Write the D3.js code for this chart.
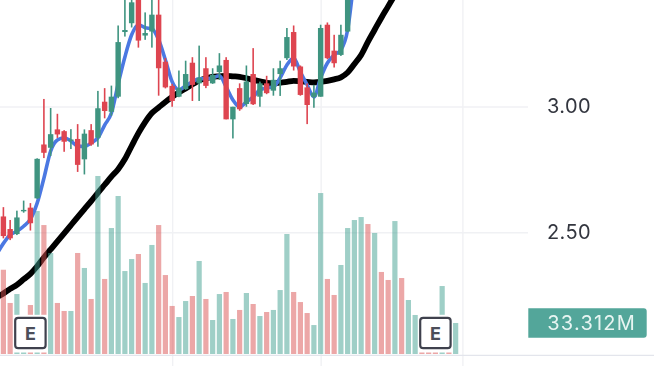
<!DOCTYPE html>
<html>
<head>
<meta charset="utf-8">
<title>Candles</title>
<script src="https://cdn.jsdelivr.net/npm/d3@7"></script>
<style>
	html, body { margin: 0; padding: 0; background: #fff; overflow: hidden; }
	svg { display: block; filter: blur(0.55px); }
	text { font-family: Inter, "Noto Sans", sans-serif; }
	.grid line { stroke: #f0f1f4; stroke-width: 1.4; }
	.grid path { display: none; }
	.price-axis path, .price-axis line { display: none; }
	.price-axis text { font-size: 20px; fill: #33363f; letter-spacing: 0.4px; }
</style>
</head>
<body>
<div id="chart"></div>
<script>

// Candles, one per session (later sessions are above the top edge)
var opens = [2.563,2.513,2.493,2.585,2.598,2.635,2.849,2.836,2.909,2.902,2.863,2.871,2.790,2.906,2.876,3.019,2.979,3.039,3.296,3.331,3.448,3.282,3.298,3.365,3.178,3.082,3.039,3.069,3.174,3.092,3.152,3.092,3.137,3.185,2.949,3.073,3.010,3.129,3.039,3.092,3.063,3.129,3.192,3.296,3.159,3.076,3.038,3.039,3.325,3.222,3.205,3.298];
var highs = [2.600,2.549,2.586,2.626,2.616,2.794,3.030,2.994,2.971,2.906,2.910,2.930,2.909,2.930,3.062,3.073,3.083,3.322,3.444,3.448,3.472,3.374,3.444,3.448,3.193,3.090,3.143,3.182,3.196,3.242,3.196,3.152,3.212,3.196,2.999,3.092,3.163,3.232,3.099,3.122,3.152,3.182,3.312,3.322,3.163,3.092,3.086,3.325,3.334,3.285,3.325,3.484];
var lows = [2.476,2.469,2.489,2.578,2.507,2.633,2.795,2.803,2.875,2.820,2.831,2.740,2.730,2.844,2.840,2.953,2.963,3.033,3.278,3.314,3.234,3.265,3.234,3.043,3.072,2.999,3.037,3.066,3.022,3.022,3.073,3.090,3.106,2.949,2.873,2.983,2.999,3.006,2.999,3.049,3.043,3.042,3.185,3.143,3.043,2.930,2.995,3.039,3.188,3.155,3.201,3.296];
var closes = [2.485,2.476,2.559,2.589,2.536,2.792,2.816,2.890,2.889,2.860,2.869,2.768,2.892,2.849,2.993,2.982,3.039,3.256,3.304,3.414,3.262,3.292,3.365,3.152,3.076,3.022,3.073,3.129,3.086,3.114,3.082,3.125,3.163,2.949,2.999,2.989,3.099,3.009,3.092,3.053,3.106,3.152,3.276,3.159,3.046,3.006,3.055,3.312,3.192,3.172,3.285,3.464];

// Short and long moving averages, both start one session before the first candle
var maShort = [2.412,2.456,2.490,2.504,2.524,2.552,2.616,2.715,2.823,2.867,2.876,2.863,2.843,2.841,2.855,2.875,2.926,2.974,3.090,3.197,3.285,3.325,3.313,3.309,3.265,3.185,3.098,3.066,3.082,3.098,3.110,3.110,3.114,3.122,3.078,3.026,2.998,3.018,3.038,3.066,3.074,3.078,3.114,3.165,3.193,3.137,3.086,3.038,3.114,3.173,3.205,3.225,3.305,3.524];
var maLong = [2.241,2.257,2.275,2.291,2.313,2.335,2.365,2.400,2.432,2.464,2.496,2.528,2.560,2.592,2.624,2.657,2.689,2.721,2.751,2.791,2.843,2.894,2.938,2.974,2.996,3.018,3.038,3.056,3.072,3.088,3.104,3.112,3.118,3.120,3.122,3.120,3.118,3.112,3.106,3.100,3.094,3.092,3.095,3.098,3.102,3.100,3.098,3.096,3.098,3.102,3.108,3.116,3.135,3.169,3.205,3.257,3.305,3.353,3.398,3.444];

// Volume in millions and the direction of each session
var volumes = [90.5,54.8,64.4,36.5,52.6,153.6,138.5,108.5,54.8,46.2,46.2,108.5,92.4,59.1,191.2,80.6,135.3,169.7,89.1,102.0,107.4,76.3,117.1,138.5,84.8,51.6,39.7,56.9,62.3,99.9,59.1,36.5,64.4,66.6,37.6,47.3,65.5,53.7,40.8,45.1,47.3,68.7,128.9,66.6,55.8,44.0,31.1,172.9,80.6,63.4,95.6,135.3,143.9,147.1,139.6,130.0,88.1,79.5,142.8,81.6,58.0,41.9,34.4,30.1,32.2,73.0,31.1,33.312];
var volumeUp = [0,0,1,1,0,1,0,1,0,0,1,0,1,0,1,0,1,1,1,1,0,1,1,0,0,0,1,1,0,1,0,1,1,0,1,0,1,0,1,0,1,1,1,0,0,0,1,1,0,0,1,1,1,1,0,1,0,0,1,0,1,1,0,0,0,1,0,1];

var priceTicks = [2.5, 3];
var timeTicks = [25, 47, 68];
var earningsSessions = [4, 64];
var lastVolume = volumes[volumes.length - 1];
var lastVolumeLabel = "33.312M";

var totalWidth = 654, totalHeight = 366;
var plotRight = 528, volumeBase = 354, axisY = 355.3;

var svg = d3.select("#chart").append("svg")
		.attr("width", totalWidth)
		.attr("height", totalHeight);

// Scales
var x = d3.scaleLinear()
		.domain([0, 67])
		.range([3.4, 455.65]);

var y = d3.scaleLinear()
		.domain([2.5, 3])
		.range([232.3, 106.5]);

var yVolume = d3.scaleLinear()
		.domain([0, 200])
		.range([volumeBase, 167.8]);

// Grid
var hGrid = d3.axisLeft(y)
		.tickValues(priceTicks)
		.tickSize(plotRight)
		.tickFormat("");

var vGrid = d3.axisBottom(x)
		.tickValues(timeTicks)
		.tickSize(totalHeight)
		.tickFormat("");

svg.append("g")
		.attr("class", "grid")
		.attr("transform", "translate(" + plotRight + ",0)")
		.call(hGrid);

svg.append("g")
		.attr("class", "grid")
		.call(vGrid);

// Long average goes under the volume bars
var line = function(values) {
	return d3.line()
			.curve(d3.curveMonotoneX)
			.x(function(d, i) { return x(i - 1); })
			.y(function(d) { return y(d); })(values);
};

svg.append("path")
		.attr("d", line(maLong))
		.attr("fill", "none")
		.attr("stroke", "#000")
		.attr("stroke-width", 5.8);

// Volume bars
svg.append("g").selectAll("rect")
		.data(volumes)
	.enter().append("rect")
		.attr("x", function(d, i) { return x(i) - 2.6; })
		.attr("y", function(d) { return yVolume(d); })
		.attr("width", 5.2)
		.attr("height", function(d) { return volumeBase - yVolume(d); })
		.attr("fill", function(d, i) { return volumeUp[i] ? "#3f9f90" : "#da4f4f"; })
		.attr("fill-opacity", 0.5);

// Short average sits under the candles
svg.append("path")
		.attr("d", line(maShort))
		.attr("fill", "none")
		.attr("stroke", "#4b78e2")
		.attr("stroke-width", 3.6);

// Candles
var candles = svg.append("g").selectAll("g")
		.data(opens)
	.enter().append("g")
		.attr("fill", function(d, i) { return closes[i] >= d ? "#3f9480" : "#de4550"; });

candles.append("rect")
		.attr("x", function(d, i) { return x(i) - 0.8; })
		.attr("y", function(d, i) { return y(highs[i]); })
		.attr("width", 1.6)
		.attr("height", function(d, i) { return y(lows[i]) - y(highs[i]); });

candles.append("rect")
		.attr("x", function(d, i) { return x(i) - 2.7; })
		.attr("y", function(d, i) { return y(Math.max(d, closes[i])); })
		.attr("width", 5.4)
		.attr("height", function(d, i) { return Math.max(1.4, Math.abs(y(d) - y(closes[i]))); });

// Bottom edge of the pane
svg.append("line")
		.attr("x1", 0)
		.attr("x2", totalWidth)
		.attr("y1", axisY)
		.attr("y2", axisY)
		.attr("stroke", "#e3e5ec")
		.attr("stroke-width", 1.2);

// Earnings markers, with a white halo that cuts into the bars behind them
var earnings = svg.append("g").selectAll("g")
		.data(earningsSessions)
	.enter().append("g")
		.attr("transform", function(d) { return "translate(" + x(d) + ",333)"; });

earnings.append("rect")
		.attr("x", -17)
		.attr("y", -18.2)
		.attr("width", 34)
		.attr("height", 37.7)
		.attr("fill", "#fff");

earnings.append("rect")
		.attr("x", -15.2)
		.attr("y", -15.2)
		.attr("width", 30.4)
		.attr("height", 30.4)
		.attr("rx", 3)
		.attr("fill", "#fff")
		.attr("stroke", "#3f414d")
		.attr("stroke-width", 2.2);

earnings.append("text")
		.attr("text-anchor", "middle")
		.attr("y", 6.5)
		.attr("font-size", 18)
		.attr("font-weight", 700)
		.attr("fill", "#4c4e5a")
		.text("E");

// Price axis
var priceAxis = d3.axisRight(y)
		.tickValues(priceTicks)
		.tickSize(0)
		.tickPadding(19)
		.tickFormat(d3.format(".2f"));

svg.append("g")
		.attr("class", "price-axis")
		.attr("transform", "translate(" + plotRight + ",0)")
		.call(priceAxis);

// Last volume label
var labelY = yVolume(lastVolume);

svg.append("path")
		.attr("d", "M528.3," + (labelY - 14.7) + "H643.7a3,3 0 0 1 3,3V" + (labelY + 11.7) + "a3,3 0 0 1 -3,3H528.3Z")
		.attr("fill", "#53a69a");

svg.append("text")
		.attr("x", 547.3)
		.attr("y", labelY + 7.2)
		.attr("font-size", 20)
		.attr("letter-spacing", 1.2)
		.attr("fill", "#e8f5f2")
		.text(lastVolumeLabel);

</script>
</body>
</html>
